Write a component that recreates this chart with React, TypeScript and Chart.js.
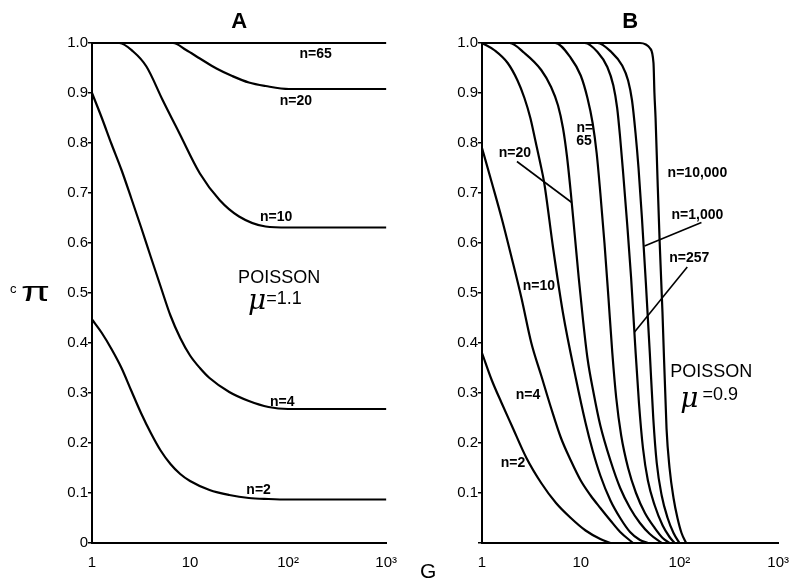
import { useEffect, useRef } from "react";
import { Chart, registerables } from "chart.js";

Chart.register(...registerables);

const FONT = "'Liberation Sans', Arial, sans-serif";

// Axis ticks
const xTicks = [1, 10, 100, 1000];
const xTickLabels = ["1", "10", "10²", "10³"];
const yTicks = [0, 0.1, 0.2, 0.3, 0.4, 0.5, 0.6, 0.7, 0.8, 0.9, 1.0];
const yTickLabelsA = ["0", "0.1", "0.2", "0.3", "0.4", "0.5", "0.6", "0.7", "0.8", "0.9", "1.0"];
const yTickLabelsB = ["", "0.1", "0.2", "0.3", "0.4", "0.5", "0.6", "0.7", "0.8", "0.9", "1.0"];

// Panel A  (Poisson, mu = 1.1)
const gA65 = [1, 1000];
const cA65 = [1.0, 1.0];
const gA20 = [1, 6.7, 9.12, 12.6, 18.6, 26.9, 39.8, 58.9, 102, 1000];
const cA20 = [1.0, 1.0, 0.986, 0.969, 0.949, 0.934, 0.921, 0.914, 0.908, 0.908];
const gA10 = [1, 1.9, 2.63, 3.59, 5.25, 7.76, 12.6, 20, 31.6, 58.9, 100, 1000];
const cA10 = [1.0, 1.0, 0.983, 0.953, 0.886, 0.82, 0.739, 0.686, 0.653, 0.633, 0.631, 0.631];
const gA4 = [1, 1.26, 1.58, 2.0, 2.51, 3.16, 3.98, 5.01, 6.31, 7.94, 10, 12.6, 15.8, 25.1, 39.8, 63.1, 100, 1000];
const cA4 = [0.9, 0.85, 0.798, 0.746, 0.69, 0.632, 0.572, 0.513, 0.455, 0.41, 0.375, 0.35, 0.33, 0.302, 0.284, 0.272, 0.268, 0.268];
const gA2 = [1, 1.26, 1.58, 2.0, 2.51, 3.16, 3.98, 5.01, 6.31, 7.94, 10, 15.8, 25.1, 39.8, 63.1, 100, 1000];
const cA2 = [0.447, 0.42, 0.388, 0.35, 0.305, 0.26, 0.22, 0.185, 0.158, 0.138, 0.124, 0.106, 0.096, 0.09, 0.088, 0.087, 0.087];

// Panel B  (Poisson, mu = 0.9)
const gB2 = [1, 1.26, 1.58, 2.0, 2.82, 3.98, 5.62, 7.94, 11.2, 15.8, 20];
const cB2 = [0.38, 0.325, 0.28, 0.235, 0.17, 0.12, 0.08, 0.05, 0.025, 0.008, 0];
const gB4 = [1, 1.26, 1.58, 2.0, 2.51, 3.16, 3.98, 5.01, 6.31, 7.94, 10, 12.6, 15.8, 20, 25.1, 33.9];
const cB4 = [0.79, 0.72, 0.65, 0.57, 0.49, 0.4, 0.335, 0.27, 0.21, 0.165, 0.125, 0.095, 0.07, 0.045, 0.022, 0];
const gB10 = [1, 1.35, 1.82, 2.29, 2.69, 3.09, 3.47, 3.89, 4.27, 5.25, 6.61, 8.91, 11.2, 13.2, 15.8, 20, 25.1, 31.6, 39.8, 47.9];
const cB10 = [1.0, 0.985, 0.96, 0.925, 0.89, 0.85, 0.805, 0.76, 0.72, 0.59, 0.46, 0.33, 0.24, 0.185, 0.135, 0.085, 0.05, 0.022, 0.006, 0];
const gB20 = [1, 1.9, 2.69, 3.98, 5.01, 5.89, 6.61, 7.24, 7.94, 8.71, 9.55, 10.5, 11.7, 13.5, 15.8, 20, 25.1, 31.6, 39.8, 50.1, 66.1];
const cB20 = [1.0, 1.0, 0.98, 0.946, 0.912, 0.875, 0.83, 0.775, 0.7, 0.615, 0.53, 0.45, 0.37, 0.3, 0.235, 0.165, 0.11, 0.07, 0.04, 0.018, 0];
const gB65 = [1, 5.5, 7.94, 10, 11.7, 13.2, 14.5, 15.8, 17.4, 19.1, 20.9, 22.9, 25.7, 30.2, 36.3, 44.7, 56.2, 67.6, 79.4];
const cB65 = [1.0, 1.0, 0.97, 0.935, 0.89, 0.84, 0.78, 0.7, 0.6, 0.49, 0.38, 0.29, 0.215, 0.15, 0.1, 0.06, 0.03, 0.01, 0];
const gB257 = [1, 11, 14.8, 18.6, 21.4, 23.4, 25.1, 26.9, 29.5, 32.4, 35.5, 38.9, 42.7, 47.9, 56.2, 67.6, 79.4, 89.1];
const cB257 = [1.0, 1.0, 0.982, 0.952, 0.915, 0.87, 0.81, 0.74, 0.64, 0.53, 0.4, 0.28, 0.19, 0.125, 0.075, 0.035, 0.012, 0];
const gB1000 = [1, 14.8, 20.4, 26.3, 30.2, 33.1, 35.9, 38.5, 41.7, 45.7, 50.1, 54.3, 58.9, 66.1, 75.9, 87.1, 100];
const cB1000 = [1.0, 1.0, 0.982, 0.955, 0.925, 0.885, 0.82, 0.75, 0.65, 0.52, 0.38, 0.25, 0.16, 0.095, 0.05, 0.02, 0];
const gB10000 = [1, 39.8, 45.7, 50.1, 54.6, 55.8, 57.3, 60, 63.1, 67.3, 74, 79.4, 87.1, 95.5, 105, 117];
const cB10000 = [1.0, 1.0, 0.997, 0.99, 0.96, 0.9, 0.85, 0.727, 0.6, 0.462, 0.229, 0.15, 0.09, 0.05, 0.02, 0];

// Leader lines in panel B (G, value) pairs
const leaderB20G = [2.26, 8.11];
const leaderB20C = [0.763, 0.681];
const leaderB1000G = [167, 44.3];
const leaderB1000C = [0.641, 0.594];
const leaderB257G = [120, 35.1];
const leaderB257C = [0.552, 0.422];

// Text annotations (anchored in data coordinates)
type Note = { text: string; g: number; v: number; kind: "n" | "big" | "mu" };
const notesA: Note[] = [
  { text: "n=65", g: 191, v: 0.978, kind: "n" },
  { text: "n=20", g: 120, v: 0.884, kind: "n" },
  { text: "n=10", g: 75.5, v: 0.652, kind: "n" },
  { text: "POISSON", g: 81, v: 0.53, kind: "big" },
  { text: "μ", g: 48.4, v: 0.482, kind: "mu" },
  { text: "=1.1", g: 91, v: 0.488, kind: "big" },
  { text: "n=4", g: 87, v: 0.282, kind: "n" },
  { text: "n=2", g: 50, v: 0.106, kind: "n" },
];
const notesB: Note[] = [
  { text: "n=20", g: 2.15, v: 0.779, kind: "n" },
  { text: "n=", g: 11, v: 0.829, kind: "n" },
  { text: "65", g: 10.8, v: 0.803, kind: "n" },
  { text: "n=10", g: 3.77, v: 0.514, kind: "n" },
  { text: "n=4", g: 2.92, v: 0.295, kind: "n" },
  { text: "n=2", g: 2.06, v: 0.159, kind: "n" },
  { text: "n=10,000", g: 152, v: 0.739, kind: "n" },
  { text: "n=1,000", g: 152, v: 0.655, kind: "n" },
  { text: "n=257", g: 126, v: 0.57, kind: "n" },
  { text: "POISSON", g: 210, v: 0.341, kind: "big" },
  { text: "μ", g: 126, v: 0.287, kind: "mu" },
  { text: "=0.9", g: 259, v: 0.295, kind: "big" },
];

const toPts = (g: number[], c: number[]) => g.map((x, i) => ({ x, y: c[i] }));

const curve = (g: number[], c: number[]) => ({
  data: toPts(g, c),
  borderColor: "#000",
  borderWidth: 2.2,
  pointRadius: 0,
  fill: false,
  cubicInterpolationMode: "monotone" as const,
  clip: false as const,
});

const leader = (g: number[], c: number[]) => ({
  data: toPts(g, c),
  borderColor: "#000",
  borderWidth: 1.6,
  pointRadius: 0,
  fill: false,
  tension: 0,
  clip: false as const,
});

function makeConfig(
  datasets: any[],
  yLabels: string[],
  yWidth: number,
  title: string,
  notes: Note[]
): any {
  const notePlugin = {
    id: "notes",
    afterDatasetsDraw(chart: any) {
      const { ctx, chartArea } = chart;
      const xs = chart.scales.x;
      const ys = chart.scales.y;
      ctx.save();
      ctx.fillStyle = "#000";
      ctx.textAlign = "center";
      ctx.textBaseline = "middle";
      ctx.font = `bold 22px ${FONT}`;
      ctx.fillText(title, (chartArea.left + chartArea.right) / 2, chartArea.top - 21);
      notes.forEach((n) => {
        if (n.kind === "n") ctx.font = `bold 14px ${FONT}`;
        else if (n.kind === "big") ctx.font = `18px ${FONT}`;
        else ctx.font = `italic 28px 'DejaVu Serif', serif`;
        ctx.fillText(n.text, xs.getPixelForValue(n.g), ys.getPixelForValue(n.v));
      });
      ctx.restore();
    },
  };
  return {
    type: "line",
    data: { datasets },
    plugins: [notePlugin],
    options: {
      responsive: false,
      animation: false,
      events: [],
      layout: { padding: { top: 43, right: 12, left: 0, bottom: 0 } },
      plugins: { legend: { display: false }, tooltip: { enabled: false } },
      scales: {
        x: {
          type: "logarithmic",
          min: 1,
          max: 1000,
          grid: { display: false },
          border: { display: true, color: "#000", width: 2 },
          afterBuildTicks: (s: any) => {
            s.ticks = xTicks.map((v) => ({ value: v }));
          },
          afterFit: (s: any) => {
            s.height = 41;
          },
          ticks: {
            color: "#000",
            padding: 3,
            maxRotation: 0,
            autoSkip: false,
            font: { family: FONT, size: 15 },
            callback: (v: any) => {
              const i = xTicks.indexOf(Number(v));
              return i >= 0 ? xTickLabels[i] : "";
            },
          },
        },
        y: {
          type: "linear",
          min: 0,
          max: 1,
          grid: {
            display: true,
            drawOnChartArea: false,
            drawTicks: true,
            tickLength: 4,
            color: "#000",
            lineWidth: 1.5,
          },
          border: { display: true, color: "#000", width: 2 },
          afterBuildTicks: (s: any) => {
            s.ticks = yTicks.map((v) => ({ value: v }));
          },
          afterFit: (s: any) => {
            s.width = yWidth;
          },
          ticks: {
            color: "#000",
            padding: 0,
            autoSkip: false,
            font: { family: FONT, size: 15 },
            callback: (_v: any, i: number) => yLabels[i],
          },
        },
      },
    },
  };
}

export default function App() {
  const refA = useRef<HTMLCanvasElement | null>(null);
  const refB = useRef<HTMLCanvasElement | null>(null);

  useEffect(() => {
    const dsA = [
      curve(gA65, cA65),
      curve(gA20, cA20),
      curve(gA10, cA10),
      curve(gA4, cA4),
      curve(gA2, cA2),
    ];
    const dsB = [
      curve(gB2, cB2),
      curve(gB4, cB4),
      curve(gB10, cB10),
      curve(gB20, cB20),
      curve(gB65, cB65),
      curve(gB257, cB257),
      curve(gB1000, cB1000),
      curve(gB10000, cB10000),
      leader(leaderB20G, leaderB20C),
      leader(leaderB1000G, leaderB1000C),
      leader(leaderB257G, leaderB257C),
    ];
    const a = new Chart(refA.current!, makeConfig(dsA, yTickLabelsA, 92, "A", notesA));
    const b = new Chart(refB.current!, makeConfig(dsB, yTickLabelsB, 82, "B", notesB));
    return () => {
      a.destroy();
      b.destroy();
    };
  }, []);

  return (
    <div
      style={{
        position: "absolute",
        left: 0,
        top: 0,
        width: 792,
        height: 584,
        background: "#fff",
        overflow: "hidden",
        fontFamily: FONT,
        color: "#000",
      }}
    >
      <canvas
        ref={refA}
        width={400}
        height={584}
        style={{ position: "absolute", left: 0, top: 0, width: 400, height: 584 }}
      />
      <canvas
        ref={refB}
        width={392}
        height={584}
        style={{ position: "absolute", left: 400, top: 0, width: 392, height: 584 }}
      />
      <div style={{ position: "absolute", left: 10, top: 276, height: 32, whiteSpace: "nowrap" }}>
        <span style={{ fontSize: 13, position: "relative", top: -8 }}>c</span>
        <span
          style={{
            fontSize: 28,
            display: "inline-block",
            transform: "scaleX(1.5)",
            transformOrigin: "left center",
            marginLeft: 4,
          }}
        >
          π
        </span>
      </div>
      <div style={{ position: "absolute", left: 420, top: 559, fontSize: 21 }}>G</div>
    </div>
  );
}
